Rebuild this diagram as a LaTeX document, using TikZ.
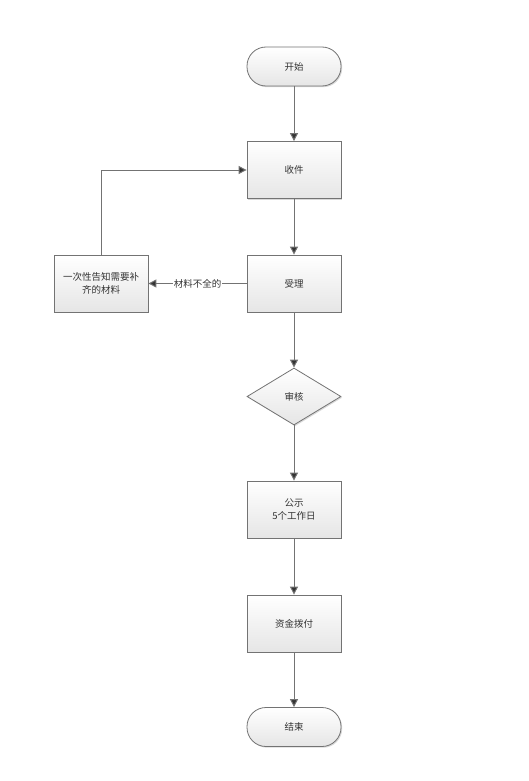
\documentclass[tikz,border=0pt]{standalone}
\usepackage{fontspec}
\setmainfont{Noto Sans CJK SC}
\usetikzlibrary{shapes.geometric,arrows.meta,shadows}
\begin{document}
\begin{tikzpicture}[x=1pt,y=-1pt,
  base/.style={draw=black!55, line width=0.8pt, top color=white, bottom color=black!10,
     font=\fontsize{9.5}{13}\selectfont, text=black!80, align=center,
     drop shadow={shadow xshift=1.2pt, shadow yshift=-1.2pt, fill=black!25, opacity=0.6}},
  procbox/.style={base, rectangle, minimum width=94pt, minimum height=57pt, inner sep=1pt},
  term/.style={base, rectangle, rounded corners=19pt, minimum width=94pt, minimum height=39pt},
  dec/.style={base, diamond, aspect=1.65, minimum width=94pt, minimum height=57pt, inner sep=0pt},
  conn/.style={draw=black!55, line width=1pt, -{Triangle[length=8pt,width=8pt,fill=black!80]}},
  lbl/.style={fill=white, font=\fontsize{9.5}{13}\selectfont, text=black!80, inner sep=1pt}
]
\useasboundingbox (0,0) rectangle (528,781);
\node[term] (start) at (294,66.5) {开始};
\node[procbox] (recv) at (294,170) {收件};
\node[procbox] (acc) at (294,283.5) {受理};
\node[procbox] (notify) at (101,283.5) {一次性告知需要补\\齐的材料};
\node[dec] (rev) at (294,396.5) {审核};
\node[procbox] (pub) at (294,509.5) {公示\\5个工作日};
\node[procbox] (pay) at (294,623.5) {资金拨付};
\node[term] (end) at (294,727) {结束};
\draw[conn] (start) -- (recv);
\draw[conn] (recv) -- (acc);
\draw[conn] (acc) -- (rev);
\draw[conn] (rev) -- (pub);
\draw[conn] (pub) -- (pay);
\draw[conn] (pay) -- (end);
\draw[conn] (acc) -- node[lbl, pos=0.5] {材料不全的} (notify);
\draw[conn] (notify.north) |- (recv.west);
\end{tikzpicture}
\end{document}
